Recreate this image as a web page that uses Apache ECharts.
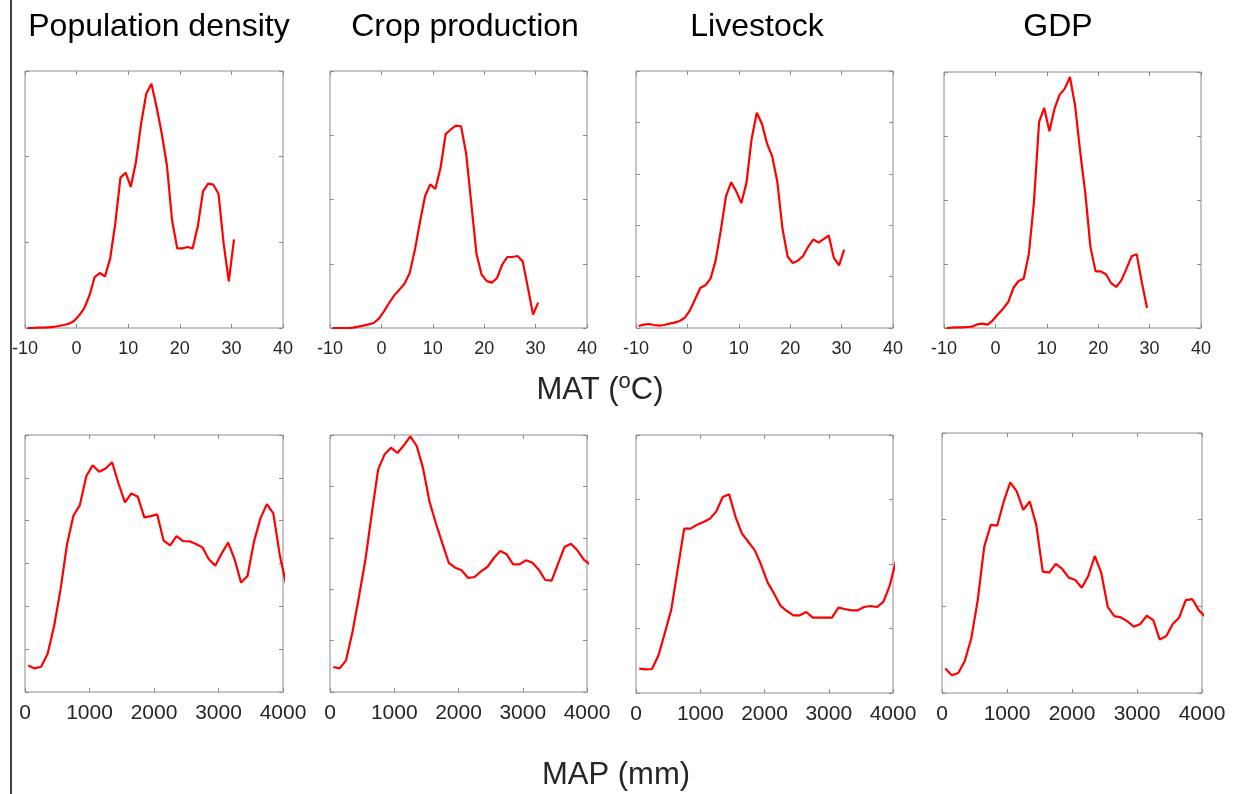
<!DOCTYPE html>
<html>
<head>
<meta charset="utf-8">
<script src="https://cdn.jsdelivr.net/npm/echarts@6/dist/echarts.min.js"></script>
<style>
  html, body { margin: 0; padding: 0; background: #fff; }
  #chart { width: 1234px; height: 794px; }
</style>
</head>
<body>
<div id="chart"></div>
<script>
// panel titles
var titles = ['Population density', 'Crop production', 'Livestock', 'GDP']

// x positions (bin centres)
var matX = [-9.5, -8.5, -7.5, -6.5, -5.5, -4.5, -3.5, -2.5, -1.5, -0.5, 0.5, 1.5, 2.5, 3.5, 4.5, 5.5, 6.5, 7.5, 8.5, 9.5,
  10.5, 11.5, 12.5, 13.5, 14.5, 15.5, 16.5, 17.5, 18.5, 19.5, 20.5, 21.5, 22.5, 23.5, 24.5, 25.5, 26.5, 27.5, 28.5, 29.5, 30.5]
var mapX = [50, 150, 250, 350, 450, 550, 650, 750, 850, 950, 1050, 1150, 1250, 1350, 1450, 1550, 1650, 1750, 1850, 1950,
  2050, 2150, 2250, 2350, 2450, 2550, 2650, 2750, 2850, 2950, 3050, 3150, 3250, 3350, 3450, 3550, 3650, 3750, 3850, 3950, 4050]

// top row: vs MAT
var popMat = [0, 0, 0.004, 0.004, 0.008, 0.012, 0.023, 0.035, 0.05, 0.082, 0.148, 0.233, 0.38, 0.595, 0.642, 0.603, 0.81, 1.22, 1.755, 1.813,
  1.646, 1.938, 2.385, 2.735, 2.85, 2.58, 2.27, 1.9, 1.26, 0.93, 0.93, 0.946, 0.93, 1.19, 1.595, 1.685, 1.673, 1.568, 0.984, 0.545, 1.035]
var cropMat = [0, 0, 0, 0, 0.005, 0.021, 0.036, 0.057, 0.078, 0.145, 0.259, 0.389, 0.508, 0.597, 0.69, 0.856, 1.209, 1.65, 2.055, 2.236,
  2.163, 2.49, 3.02, 3.09, 3.15, 3.14, 2.71, 1.93, 1.155, 0.83, 0.73, 0.706, 0.778, 0.986, 1.105, 1.105, 1.12, 1.037, 0.628, 0.208, 0.394]
var liveMat = [0.039, 0.065, 0.078, 0.058, 0.045, 0.058, 0.084, 0.104, 0.136, 0.201, 0.344, 0.558, 0.778, 0.83, 0.96, 1.316, 1.9, 2.561, 2.834, 2.659,
  2.432, 2.828, 3.683, 4.189, 3.975, 3.586, 3.34, 2.84, 1.93, 1.39, 1.265, 1.31, 1.4, 1.58, 1.725, 1.66, 1.73, 1.8, 1.362, 1.219, 1.524]
var gdpMat = [0, 0.005, 0.01, 0.01, 0.016, 0.021, 0.057, 0.068, 0.052, 0.12, 0.214, 0.302, 0.406, 0.625, 0.734, 0.771, 1.151, 1.969, 3.219, 3.438,
  3.073, 3.427, 3.646, 3.74, 3.922, 3.479, 2.75, 2.099, 1.26, 0.885, 0.885, 0.839, 0.703, 0.641, 0.745, 0.927, 1.12, 1.151, 0.708, 0.313]

// bottom row: vs MAP
var popMap = [0.621, 0.551, 0.59, 0.885, 1.53, 2.384, 3.432, 4.115, 4.363, 5.039, 5.295, 5.14, 5.217, 5.365, 4.868, 4.425, 4.635, 4.557, 4.076, 4.107,
  4.146, 3.533, 3.424, 3.641, 3.525, 3.517, 3.455, 3.377, 3.098, 2.95, 3.238, 3.486, 3.098, 2.554, 2.71, 3.51, 4.053, 4.387, 4.17, 3.2, 2.5]
var cropMap = [0.486, 0.46, 0.616, 1.167, 1.848, 2.562, 3.47, 4.332, 4.624, 4.753, 4.65, 4.799, 4.974, 4.786, 4.345, 3.696, 3.274, 2.885, 2.51, 2.419,
  2.367, 2.218, 2.237, 2.348, 2.432, 2.607, 2.743, 2.678, 2.484, 2.484, 2.562, 2.516, 2.38, 2.179, 2.166, 2.497, 2.821, 2.886, 2.756, 2.574, 2.48]
var liveMap = [0.377, 0.367, 0.372, 0.584, 0.935, 1.297, 1.925, 2.548, 2.548, 2.61, 2.651, 2.703, 2.816, 3.039, 3.08, 2.728, 2.47, 2.341, 2.212, 1.98,
  1.711, 1.54, 1.349, 1.271, 1.204, 1.204, 1.256, 1.168, 1.168, 1.168, 1.168, 1.323, 1.302, 1.282, 1.282, 1.333, 1.349, 1.333, 1.411, 1.669, 2.06]
var gdpMap = [0.282, 0.204, 0.231, 0.37, 0.629, 1.072, 1.689, 1.94, 1.932, 2.21, 2.43, 2.326, 2.113, 2.21, 1.94, 1.4, 1.388, 1.489, 1.431, 1.331,
  1.303, 1.215, 1.35, 1.581, 1.388, 0.995, 0.887, 0.872, 0.829, 0.764, 0.795, 0.891, 0.841, 0.617, 0.656, 0.795, 0.872, 1.072, 1.084, 0.956, 0.88]

// y-axis tick counts per panel (no labels shown)
var yMaxTop = [3, 4, 5, 4]
var yMaxBottom = [6, 5, 4, 3]

var panels = [
  {x: matX, y: popMat, ymax: yMaxTop[0], box: [25, 71, 258, 257], row: 0},
  {x: matX, y: cropMat, ymax: yMaxTop[1], box: [330, 71, 257, 257], row: 0},
  {x: matX, y: liveMat, ymax: yMaxTop[2], box: [636, 71, 257, 257], row: 0},
  {x: matX, y: gdpMat, ymax: yMaxTop[3], box: [944, 72, 257, 256], row: 0},
  {x: mapX, y: popMap, ymax: yMaxBottom[0], box: [25, 435, 258, 257], row: 1},
  {x: mapX, y: cropMap, ymax: yMaxBottom[1], box: [330, 435, 257, 257], row: 1},
  {x: mapX, y: liveMap, ymax: yMaxBottom[2], box: [636, 435, 257, 258], row: 1},
  {x: mapX, y: gdpMap, ymax: yMaxBottom[3], box: [942, 433, 260, 260], row: 1}
]
var titleX = [159, 465, 757, 1058]

var frameColor = '#8c8c8c'
var font = 'Liberation Sans, Arial, sans-serif'

var grids = [], xAxes = [], yAxes = [], series = []
panels.forEach(function (p, i) {
  grids.push({
    left: p.box[0], top: p.box[1], width: p.box[2], height: p.box[3],
    show: true, borderColor: frameColor, borderWidth: 1, containLabel: false
  })
  var xr = p.row === 0 ? {min: -10, max: 40, interval: 10} : {min: 0, max: 4000, interval: 1000}
  var tick = {show: true, inside: true, length: 4, lineStyle: {color: frameColor}}
  var noLine = {show: false, onZero: false}
  xAxes.push({
    gridIndex: i, type: 'value', position: 'bottom', min: xr.min, max: xr.max, interval: xr.interval,
    axisLine: noLine, axisTick: tick, splitLine: {show: false},
    axisLabel: {show: true, fontSize: p.row === 0 ? 18 : 21, color: '#262626', margin: p.row === 0 ? 12 : 11,
      fontFamily: font, showMinLabel: true, showMaxLabel: true,
      formatter: function (v) { return String(v) }}
  })
  xAxes.push({
    gridIndex: i, type: 'value', position: 'top', min: xr.min, max: xr.max, interval: xr.interval,
    axisLine: noLine, axisTick: tick, splitLine: {show: false}, axisLabel: {show: false}
  })
  yAxes.push({
    gridIndex: i, type: 'value', position: 'left', min: 0, max: p.ymax, interval: 1,
    axisLine: noLine, axisTick: tick, splitLine: {show: false}, axisLabel: {show: false}
  })
  yAxes.push({
    gridIndex: i, type: 'value', position: 'right', min: 0, max: p.ymax, interval: 1,
    axisLine: noLine, axisTick: tick, splitLine: {show: false}, axisLabel: {show: false}
  })
  series.push({
    type: 'line', xAxisIndex: 2 * i, yAxisIndex: 2 * i,
    data: p.y.map(function (v, k) { return [p.x[k], v] }),
    showSymbol: false, symbol: 'none', clip: true, animation: false,
    lineStyle: {color: '#ff0000', width: 2.2}
  })
})

var graphics = [
  {type: 'line', shape: {x1: 11, y1: 0, x2: 11, y2: 794}, style: {stroke: '#000', lineWidth: 1.5}}
]
titles.forEach(function (t, i) {
  graphics.push({
    type: 'text', x: titleX[i], y: 27,
    style: {text: t, fill: '#000', font: '32px ' + font, textAlign: 'center', textVerticalAlign: 'middle'}
  })
})
graphics.push({
  type: 'text', x: 600, y: 390,
  style: {
    text: 'MAT ({s|o}C)', fill: '#262626', font: '31px ' + font, textAlign: 'center', textVerticalAlign: 'middle',
    rich: {s: {fontSize: 22, fontFamily: font, fill: '#262626', verticalAlign: 'top', padding: [0, 0, 16, 0]}}
  }
})
graphics.push({
  type: 'text', x: 616, y: 775,
  style: {text: 'MAP (mm)', fill: '#262626', font: '31px ' + font, textAlign: 'center', textVerticalAlign: 'middle'}
})

var chart = echarts.init(document.getElementById('chart'))
chart.setOption({
  animation: false,
  backgroundColor: '#fff',
  grid: grids,
  xAxis: xAxes,
  yAxis: yAxes,
  series: series,
  graphic: graphics
})
</script>
</body>
</html>
